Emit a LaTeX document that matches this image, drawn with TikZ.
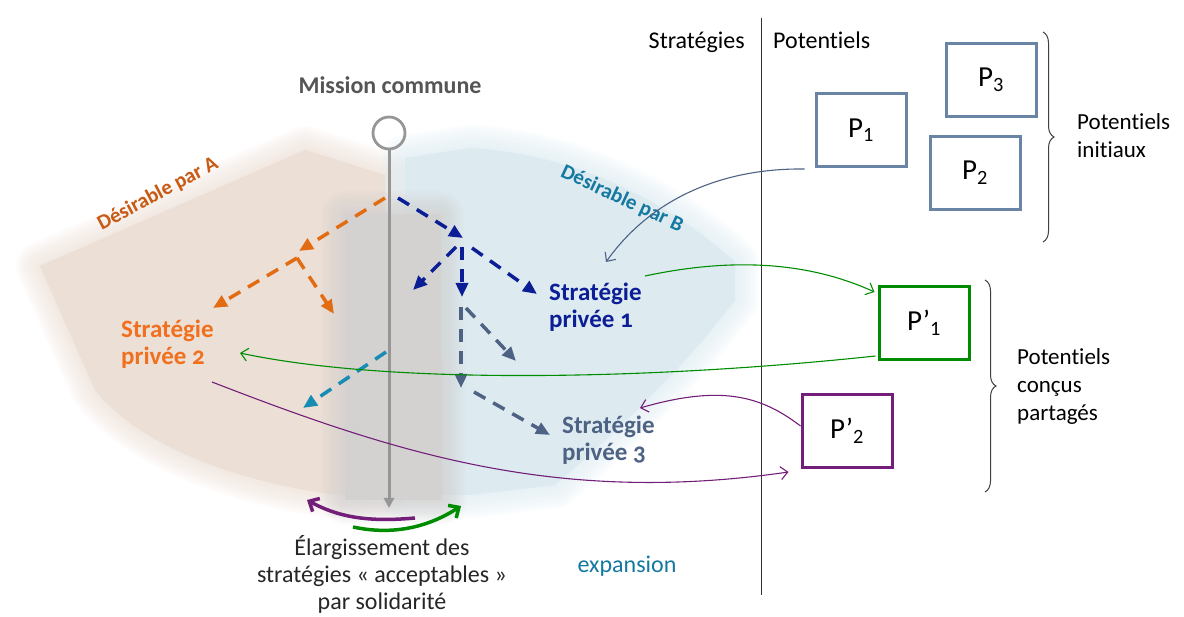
\documentclass[tikz,border=0pt]{standalone}
\usepackage{fontspec}
\setmainfont{Carlito}[Ligatures=NoCommon]
\usetikzlibrary{arrows.meta,decorations.pathreplacing,calc}
\definecolor{orA}{RGB}{226,108,18}
\definecolor{orTxt}{RGB}{200,90,20}
\definecolor{orLbl}{RGB}{240,112,30}
\definecolor{dblue}{RGB}{12,30,150}
\definecolor{slate}{RGB}{78,98,132}
\definecolor{tealA}{RGB}{25,140,180}
\definecolor{tealTxt}{RGB}{20,120,160}
\definecolor{pbox}{RGB}{105,132,165}
\definecolor{gr}{RGB}{0,140,0}
\definecolor{pu}{RGB}{115,30,120}
\definecolor{peach}{RGB}{236,223,214}
\definecolor{lblue}{RGB}{221,235,241}
\definecolor{lgray}{RGB}{212,210,209}
\definecolor{mgray}{RGB}{150,150,150}
\definecolor{dtxt}{RGB}{85,85,85}
\newcommand{\softregion}[2]{%
  \foreach \w in {48,44,...,4}{\fill[#1,opacity=0.09,draw=#1,line width=\w,line join=round] #2;}
  \fill[#1] #2;}
\tikzset{
  txt/.style={font=\fontsize{24}{28}\selectfont, inner sep=0pt},
  bl/.style={font=\fontsize{25}{27}\selectfont\bfseries, inner sep=0pt, align=left},
  dA/.style={line width=3.5, dash pattern=on 13pt off 9pt, -{Triangle[length=14pt,width=12pt]}},
  pb/.style={draw=pbox, line width=3, minimum width=90, minimum height=73, font=\fontsize{29}{30}\selectfont},
  thin/.style={line width=1.1, -{Straight Barb[length=7pt,width=13pt]}},
  thick/.style={line width=3.5, -{Straight Barb[length=8pt,width=15pt]}},
}
\begin{document}
\begin{tikzpicture}[x=1pt,y=-1pt]
\useasboundingbox (0,0) rectangle (1184,617);
% background regions
\softregion{peach}{(40,266) -- (305,150) -- (385,175) -- (385,492) -- (330,494) .. controls (220,478) and (135,440) .. (95,390) -- cycle}
\softregion{lblue}{(405,158) -- (470,148) .. controls (560,153) and (655,190) .. (735,262) -- (735,300) .. controls (690,360) and (630,420) .. (555,485) -- (470,495) -- (405,495) -- cycle}
\softregion{lgray}{(345,215) -- (440,215) -- (442,500) -- (345,500) -- cycle}
% title and stem
\node[txt, font=\fontsize{24}{28}\selectfont\bfseries, text=dtxt] (mission) at (390,85) {Mission commune};
\node[circle, draw=mgray, line width=2.8, minimum size=32, inner sep=0pt] (C) at (389,133) {};
\coordinate (stemEnd) at (389,508);
\draw[mgray, line width=3, -{Triangle[length=10pt,width=10pt]}] (C.south) -- (stemEnd);
% desirable labels
\node[txt, font=\fontsize{21}{24}\selectfont\bfseries, text=orTxt, rotate=28] (dA) at (158,194) {Désirable par A};
\node[txt, font=\fontsize{21}{24}\selectfont\bfseries, text=tealTxt, rotate=-25] (dB) at (622,199) {Désirable par B};
% strategy labels
\node[bl, text=orLbl, anchor=north west] (sp2) at (121,320) {Stratégie\\privée \addfontfeature{Numbers=OldStyle}2};
\node[bl, text=dblue, anchor=north west] (sp1) at (549,283) {Stratégie\\privée \addfontfeature{Numbers=OldStyle}1};
\node[bl, text=slate, anchor=north west] (sp3) at (562,416) {Stratégie\\privée \addfontfeature{Numbers=OldStyle}3};
% orange dashed tree
\coordinate (o0) at (385,198); \coordinate (o1) at (299,251);
\coordinate (o1s) at (297,258); \coordinate (o2) at (213,308); \coordinate (o3) at (334,314);
\draw[dA, orA] (o0) -- (o1);
\draw[dA, orA] (o1s) -- (o2);
\draw[dA, orA] (o1s) -- (o3);
% dark blue dashed tree
\coordinate (b0) at (398,198); \coordinate (b1) at (463,238);
\coordinate (b1a) at (456,247); \coordinate (b2) at (413,290);
\coordinate (b1b) at (462,247); \coordinate (b3) at (462,297);
\coordinate (b1c) at (472,248); \coordinate (b4) at (537,294);
\draw[dA, dblue] (b0) -- (b1);
\draw[dA, dblue] (b1a) -- (b2);
\draw[dA, dblue] (b1b) -- (b3);
\draw[dA, dblue] (b1c) -- (b4);
% slate dashed tree
\coordinate (s0) at (461,307); \coordinate (s1) at (461,388);
\coordinate (s0b) at (466,308); \coordinate (s2) at (516,361);
\coordinate (s1s) at (474,392); \coordinate (s3) at (550,435);
\draw[dA, slate] (s0) -- (s1);
\draw[dA, slate] (s0b) -- (s2);
\draw[dA, slate] (s1s) -- (s3);
% teal dashed
\coordinate (t0) at (386,352); \coordinate (t1) at (303,408);
\draw[dA, tealA] (t0) -- (t1);
% bottom arcs
\coordinate (pa0) at (415,518); \coordinate (pa1) at (307,500);
\coordinate (ga0) at (353,527); \coordinate (ga1) at (461,506);
\draw[thick, pu] (pa0) .. controls (370,522) and (340,518) .. (pa1);
\draw[thick, gr] (ga0) .. controls (395,536) and (430,526) .. (ga1);
% bottom texts
\node[txt, align=center, text=black!85, font=\fontsize{24}{27}\selectfont] (elarg) at (382,574) {Élargissement des\\stratégies « acceptables »\\par solidarité};
\node[txt, text=tealTxt] (exp) at (627,566) {expansion};
% divider
\coordinate (divT) at (761,18); \coordinate (divB) at (761,595);
\draw[black!80, line width=1] (divT) -- (divB);
\node[txt, anchor=base east] (hs) at (745,49) {Stratégies};
\node[txt, anchor=base west] (hp) at (773,49) {Potentiels};
% potential boxes
\node[pb] (P1) at (861,130) {P\textsubscript{1}};
\node[pb] (P3) at (991,80) {P\textsubscript{3}};
\node[pb] (P2) at (975,173) {P\textsubscript{2}};
\node[pb, draw=gr] (Pp1) at (924,323) {P’\textsubscript{1}};
\node[pb, draw=pu] (Pp2) at (847,431) {P’\textsubscript{2}};
% braces
\coordinate (br1a) at (1043,32); \coordinate (br1b) at (1043,242);
\draw[black!75, line width=1, decorate, decoration={brace, amplitude=11pt}] (br1a) -- (br1b);
\node[txt, anchor=west, align=left, font=\fontsize{23}{28}\selectfont] (pi) at (1077,136) {Potentiels\\initiaux};
\coordinate (br2a) at (985,280); \coordinate (br2b) at (985,492);
\draw[black!75, line width=1, decorate, decoration={brace, amplitude=11pt}] (br2a) -- (br2b);
\node[txt, anchor=west, align=left, font=\fontsize{23}{28}\selectfont] (pc) at (1017,386) {Potentiels\\conçus\\partagés};
% connectors
\draw[thin, slate] ($(P1.south west)+(-10,1)$) .. controls (720,168) and (650,200) .. ($(sp1.north west)+(57,-21)$);
\draw[thin, gr] ($(sp1.north west)+(96,-7)$) .. controls (720,260) and (800,258) .. ($(Pp1.north west)+(-3,7)$);
\draw[thin, gr] ($(Pp1.south west)+(-2,-5)$) .. controls (650,380) and (390,385) .. ($(sp2.north west)+(119,33)$);
\draw[thin, pu] ($(sp2.north west)+(91,62)$) .. controls (400,455) and (560,505) .. ($(Pp2.south west)+(-12,3)$);
\draw[thin, pu] ($(Pp2.west)+(0,-5)$) .. controls (760,395) and (720,385) .. ($(sp3.north west)+(78,-8)$);
\end{tikzpicture}
\end{document}
